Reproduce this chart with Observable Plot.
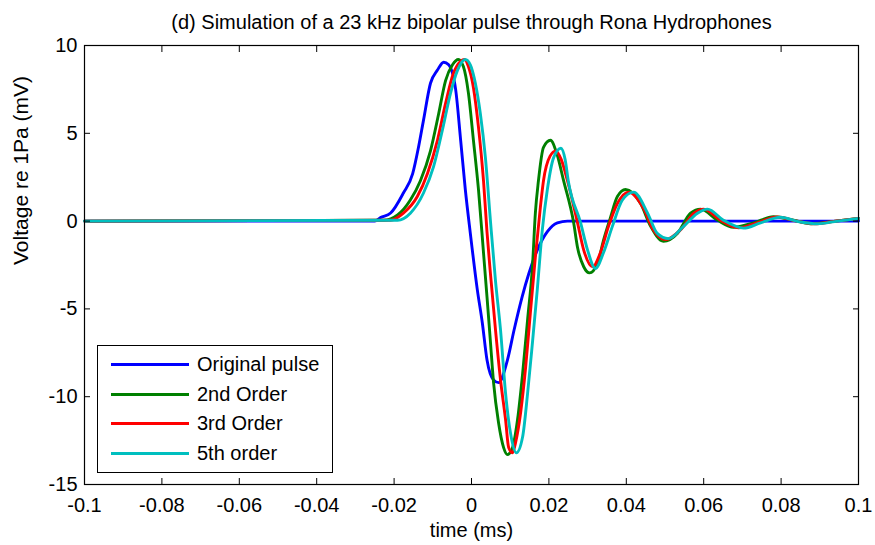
<!DOCTYPE html>
<html>
<head>
<meta charset="utf-8">
<script src="https://cdn.jsdelivr.net/npm/d3@7"></script>
<script src="https://cdn.jsdelivr.net/npm/@observablehq/plot@0.6"></script>
<style>
  html, body { margin: 0; padding: 0; background: #fff; }
  #wrap { position: relative; width: 875px; height: 545px; font-family: "Liberation Sans", Arial, Helvetica, sans-serif; }
  #legend { position: absolute; left: 97px; top: 345px; width: 236px; height: 128px; border: 1.3px solid #000; background: #fff; box-sizing: border-box; }
  .lg-row { position: absolute; left: 0; height: 24px; display: flex; align-items: center; }
  .lg-line { width: 78px; height: 3px; margin-left: 13px; margin-right: 8px; }
  .lg-text { font-size: 20px; color: #000; white-space: nowrap; line-height: 24px; }
</style>
</head>
<body>
<div id="wrap"></div>
<script>
// ---- data (time in ms, voltage in mV) ----
const titleText = "(d) Simulation of a 23 kHz bipolar pulse through Rona Hydrophones";
const xLabel = "time (ms)";
const yLabel = "Voltage re 1Pa (mV)";
const xTicks = [-0.1, -0.08, -0.06, -0.04, -0.02, 0, 0.02, 0.04, 0.06, 0.08, 0.1];
const yTicks = [-15, -10, -5, 0, 5, 10];
const seriesNames = ["Original pulse", "2nd Order", "3rd Order", "5th order"];
const seriesColors = ["#0000ff", "#008000", "#ff0000", "#00bfbf"];

const blueT = [-0.1, -0.025, -0.0235, -0.0209, -0.0176, -0.0152, -0.0137, -0.0124, -0.0106, -0.0088, -0.0072, -0.0059, -0.0041, -0.0028, -0.0016, -0.0003, 0.0015, 0.0028, 0.004, 0.0057, 0.007, 0.0093, 0.011, 0.0131, 0.0148, 0.017, 0.0196, 0.0222, 0.0248, 0.1];
const blueV = [0, 0, 0.2, 0.46, 1.6, 2.7, 4.2, 5.75, 7.85, 8.6, 9.05, 8.9, 7.5, 4.6, 1.8, -0.7, -3.9, -5.8, -7.9, -9.05, -9.2, -7.9, -6.2, -4.3, -3.0, -1.65, -0.6, -0.1, 0, 0];

const greenT = [-0.1, -0.0227, -0.0191, -0.0158, -0.0132, -0.0106, -0.0085, -0.0067, -0.0049, -0.0034, -0.0021, -0.0008, 0.0005, 0.0018, 0.0031, 0.004, 0.0049, 0.0057, 0.007, 0.0083, 0.0093, 0.0106, 0.0119, 0.0132, 0.0145, 0.0158, 0.0165, 0.0173, 0.0186, 0.0204, 0.0221, 0.0238, 0.0264, 0.0274, 0.029, 0.0305, 0.0326, 0.0341, 0.0359, 0.0377, 0.0398, 0.0437, 0.0463, 0.0496, 0.0532, 0.0566, 0.0592, 0.0636, 0.0677, 0.0729, 0.078, 0.0832, 0.0876, 0.094, 0.1];
const greenV = [0, 0.05, 0.35, 1.2, 2.3, 4.0, 6.1, 8.0, 8.9, 9.2, 8.8, 7.3, 4.6, 1.8, -1.8, -4.3, -6.9, -9.2, -11.5, -12.9, -13.3, -12.9, -11.3, -8.7, -5.6, -2.4, 0.45, 2.3, 4.2, 4.6, 3.8, 2.3, -0.1, -1.5, -2.6, -2.95, -2.4, -1.1, 0.2, 1.4, 1.8, 1.0, -0.3, -1.15, -0.7, 0.45, 0.68, 0.05, -0.35, -0.1, 0.25, 0.05, -0.15, 0, 0.15];

const redT = [-0.1, -0.0209, -0.0176, -0.014, -0.0114, -0.0088, -0.0067, -0.0047, -0.0028, -0.0018, -0.0008, 0.0005, 0.0018, 0.0031, 0.004, 0.0049, 0.0062, 0.0075, 0.0088, 0.0096, 0.0106, 0.0114, 0.0127, 0.014, 0.0152, 0.0165, 0.0178, 0.0186, 0.0203, 0.0218, 0.0232, 0.0248, 0.0274, 0.029, 0.0313, 0.0333, 0.0354, 0.0377, 0.0406, 0.0445, 0.047, 0.0502, 0.054, 0.0575, 0.06, 0.0643, 0.069, 0.0738, 0.079, 0.084, 0.0885, 0.094, 0.1];
const redV = [0, 0.05, 0.45, 1.4, 2.7, 4.6, 6.7, 8.4, 9.1, 9.2, 8.8, 7.6, 5.35, 2.3, -0.6, -3.0, -6.2, -9.05, -11.3, -12.9, -13.2, -12.6, -10.9, -8.3, -5.25, -2.05, 0.8, 2.3, 3.7, 4.0, 3.5, 2.3, -0.1, -1.65, -2.6, -1.8, -0.3, 1.0, 1.65, 0.7, -0.5, -1.05, -0.5, 0.45, 0.68, 0.05, -0.38, -0.1, 0.23, 0, -0.15, 0, 0.15];

const cyanT = [-0.1, -0.0191, -0.0158, -0.0124, -0.0098, -0.0075, -0.0054, -0.0036, -0.0016, -0.0003, 0.001, 0.0023, 0.0036, 0.0049, 0.0062, 0.0075, 0.0088, 0.0101, 0.0116, 0.0132, 0.0145, 0.0158, 0.017, 0.0183, 0.0196, 0.0212, 0.0231, 0.0242, 0.025, 0.0282, 0.03, 0.032, 0.0341, 0.0364, 0.039, 0.0419, 0.0455, 0.048, 0.0509, 0.0548, 0.0584, 0.061, 0.0651, 0.0703, 0.0747, 0.0798, 0.085, 0.0894, 0.0946, 0.1];
const cyanV = [0, 0.05, 0.45, 1.6, 3.1, 5.2, 7.3, 8.6, 9.2, 8.9, 7.85, 6.1, 3.6, 0, -3.4, -6.2, -9.8, -12.1, -13.2, -12.3, -9.8, -6.8, -3.9, -0.5, 1.8, 3.6, 4.15, 3.5, 2.3, -0.1, -1.65, -2.7, -1.8, -0.3, 1.2, 1.65, 0.45, -0.7, -1.0, -0.3, 0.45, 0.68, 0.05, -0.4, -0.1, 0.22, -0.05, -0.15, 0, 0.15];

// ---- build table ----
const allT = [blueT, greenT, redT, cyanT];
const allV = [blueV, greenV, redV, cyanV];
const rows = seriesNames.flatMap((name, i) => allT[i].map((t, j) => ({t, v: allV[i][j], series: name})));

const fmt = d => String(+(+d).toFixed(3));
const FONT = "'Liberation Sans', Arial, Helvetica, sans-serif";
const NARROW = "'Liberation Sans Narrow', 'Arial Narrow', 'Liberation Sans', sans-serif";

const chart = Plot.plot({
  width: 875,
  height: 545,
  marginLeft: 84,
  marginRight: 17,
  marginTop: 45,
  marginBottom: 61,
  style: {fontFamily: FONT, fontSize: "20px", color: "#000", background: "#fff", overflow: "visible"},
  x: {domain: [-0.1, 0.1], label: null},
  y: {domain: [-15, 10], label: null},
  color: {domain: seriesNames, range: seriesColors},
  marks: [
    Plot.line(rows, {x: "t", y: "v", z: "series", stroke: "series", strokeWidth: 2.9, curve: "monotone-x"}),
    Plot.frame({stroke: "#000", strokeWidth: 1.2}),
    Plot.axisX(xTicks, {anchor: "bottom", tickSize: -6, tickPadding: 19, tickFormat: fmt, fontSize: 20, fontFamily: NARROW, label: null, stroke: "#000"}),
    Plot.axisX(xTicks, {anchor: "top", tickSize: -6, tickFormat: () => "", label: null, stroke: "#000"}),
    Plot.axisY(yTicks, {anchor: "left", tickSize: -6, tickPadding: 13, tickFormat: fmt, fontSize: 20, label: null, stroke: "#000"}),
    Plot.axisY(yTicks, {anchor: "right", tickSize: -6, tickFormat: () => "", label: null, stroke: "#000"}),
    Plot.text([titleText], {frameAnchor: "top", text: d => d, dy: -23, lineAnchor: "middle", fontSize: 20, fill: "#000"}),
    Plot.text([xLabel], {frameAnchor: "bottom", text: d => d, dy: 46, lineAnchor: "middle", fontSize: 20, fill: "#000"}),
    Plot.text([yLabel], {frameAnchor: "left", text: d => d, dx: -63, rotate: -90, lineAnchor: "middle", fontSize: 21, fill: "#000"})
  ]
});

const wrap = document.getElementById("wrap");
wrap.appendChild(chart);

// ---- legend ----
const legend = document.createElement("div");
legend.id = "legend";
const rowTops = [6, 36, 65, 95];
seriesNames.forEach((name, i) => {
  const r = document.createElement("div");
  r.className = "lg-row";
  r.style.top = rowTops[i] + "px";
  const ln = document.createElement("div");
  ln.className = "lg-line";
  ln.style.background = seriesColors[i];
  const tx = document.createElement("span");
  tx.className = "lg-text";
  tx.textContent = name;
  r.appendChild(ln);
  r.appendChild(tx);
  legend.appendChild(r);
});
wrap.appendChild(legend);
</script>
</body>
</html>
